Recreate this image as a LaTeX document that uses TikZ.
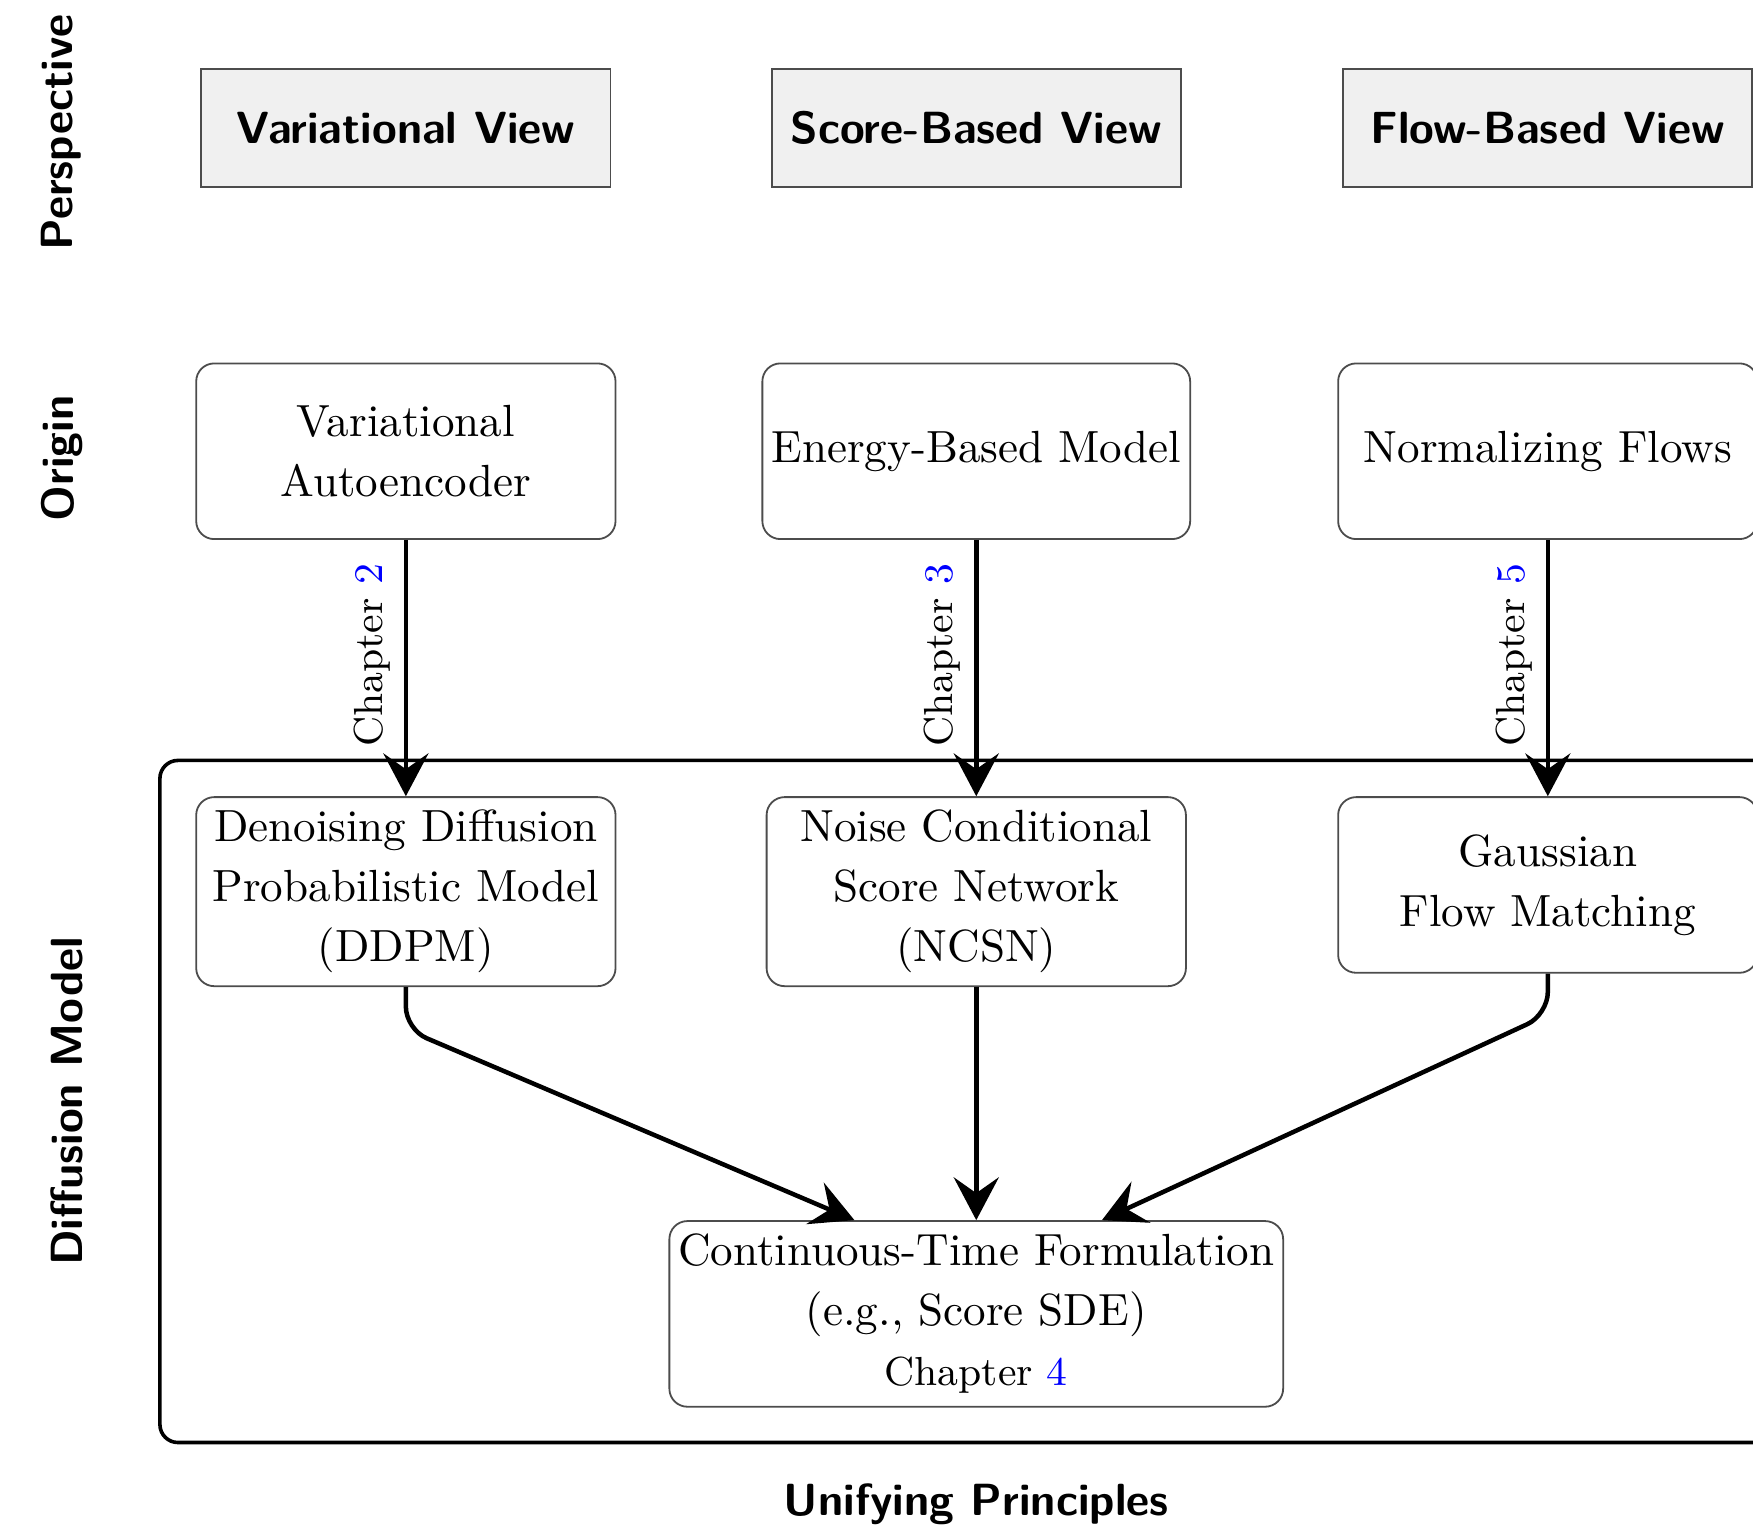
\documentclass[tikz,border=0pt]{standalone}
\usepackage{xcolor}
\usetikzlibrary{arrows.meta,positioning,calc}

\begin{document}
\begin{tikzpicture}[
  viewbox/.style={draw=black!70, fill=black!6, minimum width=3.19cm, minimum height=0.92cm, font=\sffamily\bfseries},
  modelbox/.style={draw=black!70, rounded corners=4pt, align=center, minimum width=3.27cm, minimum height=1.37cm, inner xsep=2pt, inner ysep=2.9pt, font=\fontsize{10}{13.3}\selectfont},
  rowlabel/.style={font=\sffamily\bfseries, rotate=90},
  flow/.style={-{Stealth[length=9.5pt,width=10pt,inset=3.5pt]}, line width=1pt, rounded corners=5pt},
  chap/.style={font=\small, rotate=90, anchor=south, inner sep=3pt, pos=0.45}
]
  \clip (0,0) rectangle (13.67,-11.90);

  % Row labels
  \node[rowlabel] (lpersp) at (0.48,-1.03) {Perspective};
  \node[rowlabel] (lorig) at (0.48,-3.575) {Origin};
  \node[rowlabel] (ldiff) at (0.52,-8.59) {Diffusion Model};
  \node[font=\sffamily\bfseries] (lunify) at (7.613,-11.73) {Unifying Principles};

  % Perspectives
  \node[viewbox] (varview) at (3.165,-0.998) {Variational View};
  \node[viewbox] (scoreview) at (7.613,-0.998) {Score-Based View};
  \node[viewbox] (flowview) at (12.07,-0.998) {Flow-Based View};

  % Origins
  \node[modelbox] (vae) at (3.165,-3.519) {Variational\\Autoencoder};
  \node[modelbox] (ebm) at (7.613,-3.519) {Energy-Based Model};
  \node[modelbox] (nf) at (12.07,-3.519) {Normalizing Flows};

  % Diffusion model frame
  \draw[thick, rounded corners=4pt] (1.247,-5.93) rectangle (14.2,-11.249);

  % Diffusion models
  \node[modelbox, anchor=north] (ddpm) at (3.165,-6.209) {Denoising Diffusion\\Probabilistic Model\\(DDPM)};
  \node[modelbox, anchor=north] (ncsn) at (7.613,-6.209) {Noise Conditional\\Score Network\\(NCSN)};
  \node[modelbox, anchor=north] (gfm) at (12.07,-6.209) {Gaussian\\Flow Matching};

  % Unified formulation
  \node[modelbox] (ct) at (7.613,-10.246) {Continuous-Time Formulation\\(e.g., Score SDE)\\{\small Chapter \textcolor{blue}{4}}};

  % Origin to diffusion model
  \draw[flow] (vae) -- (ddpm) node[chap] {Chapter \textcolor{blue}{2}};
  \draw[flow] (ebm) -- (ncsn) node[chap] {Chapter \textcolor{blue}{3}};
  \draw[flow] (nf) -- (gfm) node[chap] {Chapter \textcolor{blue}{5}};

  % Towards continuous time
  \draw[flow] (ddpm.south) -- ++(0,-0.33) -- ($(ct.north)+(-0.95,0)$);
  \draw[flow] (ncsn) -- (ct);
  \draw[flow] (gfm.south) -- ++(0,-0.32) -- ($(ct.north)+(0.98,0)$);
\end{tikzpicture}
\end{document}
